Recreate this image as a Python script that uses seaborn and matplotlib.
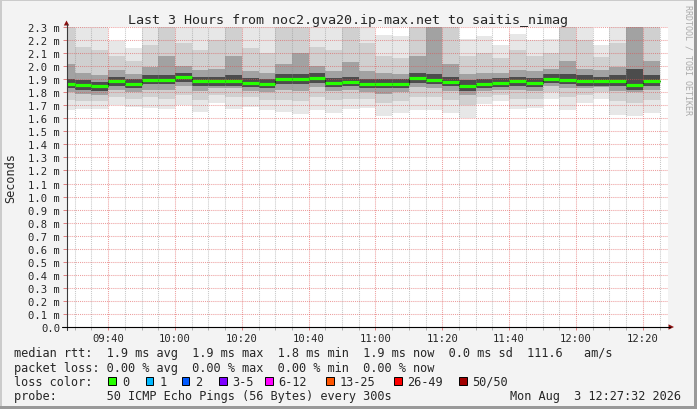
import numpy as np
import matplotlib
matplotlib.use("Agg")
import matplotlib.pyplot as plt
from matplotlib.lines import Line2D
from matplotlib.patches import Rectangle, Polygon
import seaborn as sns

W, H = 697, 410

# 5 minute ping rounds (start time of each round)
slot_times = ["09:25", "09:30", "09:35", "09:40", "09:45", "09:50", "09:55", "10:00", "10:05",
              "10:10", "10:15", "10:20", "10:25", "10:30", "10:35", "10:40", "10:45", "10:50",
              "10:55", "11:00", "11:05", "11:10", "11:15", "11:20", "11:25", "11:30", "11:35",
              "11:40", "11:45", "11:50", "11:55", "12:00", "12:05", "12:10", "12:15", "12:20"]

# rtt in ms; smoke percentiles per round (2.4 = above the top of the graph)
rtt_lo  = [1.66, 1.67, 1.67, 1.70, 1.69, 1.68, 1.67, 1.70, 1.65, 1.72, 1.67, 1.69, 1.66, 1.65, 1.63, 1.66, 1.64, 1.67,
           1.68, 1.62, 1.64, 1.66, 1.66, 1.64, 1.60, 1.71, 1.73, 1.67, 1.68, 1.75, 1.66, 1.72, 1.75, 1.625, 1.62, 1.64]
rtt_p10 = [1.74, 1.73, 1.73, 1.76, 1.75, 1.76, 1.75, 1.78, 1.74, 1.78, 1.76, 1.76, 1.74, 1.74, 1.73, 1.76, 1.74, 1.75,
           1.75, 1.72, 1.73, 1.76, 1.76, 1.74, 1.70, 1.76, 1.78, 1.75, 1.75, 1.80, 1.76, 1.78, 1.80, 1.73, 1.72, 1.74]
rtt_p25 = [1.80, 1.79, 1.78, 1.82, 1.80, 1.82, 1.82, 1.85, 1.81, 1.83, 1.83, 1.81, 1.80, 1.82, 1.81, 1.84, 1.81, 1.82,
           1.80, 1.79, 1.80, 1.84, 1.83, 1.81, 1.78, 1.81, 1.82, 1.82, 1.81, 1.85, 1.83, 1.83, 1.84, 1.81, 1.80, 1.82]
rtt_p40 = [1.83, 1.82, 1.81, 1.85, 1.83, 1.86, 1.86, 1.88, 1.85, 1.85, 1.85, 1.84, 1.83, 1.86, 1.86, 1.87, 1.84, 1.85,
           1.83, 1.83, 1.83, 1.87, 1.86, 1.85, 1.81, 1.83, 1.84, 1.85, 1.84, 1.87, 1.86, 1.85, 1.85, 1.85, 1.82, 1.85]
rtt_med = [1.864, 1.856, 1.849, 1.887, 1.864, 1.896, 1.896, 1.919, 1.883, 1.888, 1.888, 1.873, 1.863, 1.901, 1.901,
           1.911, 1.873, 1.882, 1.866, 1.866, 1.866, 1.911, 1.896, 1.881, 1.850, 1.866, 1.873, 1.883, 1.873, 1.904,
           1.896, 1.888, 1.888, 1.888, 1.858, 1.888]
rtt_p60 = [1.90, 1.89, 1.88, 1.92, 1.90, 1.93, 1.93, 1.95, 1.92, 1.92, 1.93, 1.91, 1.90, 1.94, 1.94, 1.95, 1.91, 1.92,
           1.90, 1.90, 1.90, 1.95, 1.94, 1.92, 1.89, 1.90, 1.91, 1.92, 1.91, 1.94, 1.94, 1.93, 1.92, 1.93, 1.98, 1.93]
rtt_p75 = [2.02, 1.95, 1.93, 1.97, 1.94, 1.99, 2.08, 2.00, 1.97, 1.98, 2.08, 1.96, 1.95, 2.02, 2.10, 2.00, 1.96, 2.03,
           1.96, 1.95, 1.94, 2.08, 2.40, 2.02, 1.94, 1.95, 1.95, 1.97, 1.96, 1.98, 2.04, 1.98, 1.97, 1.99, 2.40, 2.04]
rtt_p90 = [2.40, 2.15, 2.12, 2.08, 2.04, 2.16, 2.40, 2.18, 2.12, 2.20, 2.40, 2.14, 2.10, 2.40, 2.40, 2.15, 2.12, 2.40,
           2.18, 2.08, 2.06, 2.40, 2.40, 2.40, 2.08, 2.10, 2.06, 2.12, 2.08, 2.10, 2.40, 2.20, 2.07, 2.18, 2.40, 2.40]
rtt_hi  = [2.40, 2.40, 2.40, 2.19, 2.14, 2.40, 2.40, 2.40, 2.40, 2.40, 2.40, 2.40, 2.40, 2.40, 2.40, 2.40, 2.40, 2.40,
           2.40, 2.24, 2.23, 2.40, 2.40, 2.40, 2.21, 2.23, 2.16, 2.25, 2.20, 2.21, 2.40, 2.40, 2.16, 2.40, 2.40, 2.40]

time_labels = ["09:40", "10:00", "10:20", "10:40", "11:00", "11:20", "11:40", "12:00", "12:20"]
y_ticks = [0.0, 0.1, 0.2, 0.3, 0.4, 0.5, 0.6, 0.7, 0.8, 0.9, 1.0, 1.1, 1.2, 1.3, 1.4, 1.5, 1.6, 1.7, 1.8, 1.9,
           2.0, 2.1, 2.2, 2.3]

loss_labels = ["0", "1", "2", "3-5", "6-12", "13-25", "26-49", "50/50"]
loss_colors = ["#26ff00", "#00b8ff", "#0059ff", "#7e00ff", "#ff00ff", "#ff5500", "#ff0000", "#a10000"]
loss_box_x = [108.3, 145.7, 181.7, 219, 265, 326, 394, 459]

title = "Last 3 Hours from noc2.gva20.ip-max.net to saitis_nimag"
rtt_line = "median rtt:  1.9 ms avg  1.9 ms max  1.8 ms min  1.9 ms now  0.0 ms sd  111.6   am/s"
loss_line = "packet loss: 0.00 % avg  0.00 % max  0.00 % min  0.00 % now"
probe_line = "probe:       50 ICMP Echo Pings (56 Bytes) every 300s"
stamp = "Mon Aug  3 12:27:32 2026"
end_time = "12:27:32"


def mins(s):
    parts = [int(p) for p in s.split(":")]
    m = (parts[0] - 9) * 60 + parts[1]
    if len(parts) > 2:
        m += parts[2] / 60
    return m


sns.set_theme(style="white")
plt.rcParams["font.family"] = ["DejaVu Sans Mono", "DejaVu Sans"]

fig = plt.figure(figsize=(W / 100, H / 100), dpi=100)
fig.patch.set_facecolor("#f3f3f3")

L, R, T, B = 66.5, 668, 28, 328
ax = fig.add_axes([L / W, 1 - B / H, (R - L) / W, (B - T) / H])
ax.set_facecolor("white")

x0 = np.array([mins(s) for s in slot_times], float)
edges = np.append(x0, x0[-1] + 5)


def stepv(v):
    v = np.asarray(v, float)
    return np.append(v, v[-1])


# smoke
bands = [(rtt_lo, rtt_hi, "#e7e7e7"), (rtt_p10, rtt_p90, "#d0d0d0"),
         (rtt_p25, rtt_p75, "#a2a2a2"), (rtt_p40, rtt_p60, "#4c4c4c")]
for a, b, c in bands:
    ax.fill_between(edges, stepv(a), stepv(b), step="post", color=c, lw=0, zorder=1)

# median: dark step + loss coloured segments
sns.lineplot(x=edges, y=stepv(rtt_med), drawstyle="steps-post", color="#202020", lw=0.8,
             estimator=None, ax=ax, zorder=3)
ax.hlines(rtt_med, x0, x0 + 5, color=loss_colors[0], lw=2.3, zorder=4)

t_end = mins(end_time)
ax.set_xlim(t_end - 180, t_end)
ax.set_ylim(0, 2.3)

ax.set_xticks([mins(s) for s in time_labels])
ax.set_xticklabels(time_labels)
ax.set_xticks(edges[1:], minor=True)
ax.set_yticks(y_ticks)
ax.set_yticklabels(["0.0" if v == 0 else f"{v:.1f} m" for v in y_ticks])

dot = (0, (1, 1))
ax.set_axisbelow(False)
ax.grid(True, which="major", axis="both", color="#de5050", alpha=0.55, ls=dot, lw=0.75)
ax.grid(True, which="minor", axis="x", color="#8f8f8f", alpha=0.5, ls=dot, lw=0.75)
for s in ax.spines.values():
    s.set_visible(False)
ax.tick_params(axis="y", which="major", left=True, direction="out", length=3, width=0.7,
               color="#e08080", pad=1.5, labelsize=7.6)
ax.tick_params(axis="x", which="major", bottom=True, direction="out", length=2, width=0.7,
               color="#e08080", pad=2, labelsize=7.6)
ax.tick_params(axis="x", which="minor", bottom=True, direction="out", length=2, width=0.7,
               color="#b0b0b0")


def fx(x):
    return x / W


def fy(y):
    return 1 - y / H


# axes with arrows
fig.add_artist(Line2D([fx(66.5), fx(66.5)], [fy(331), fy(25)], color="#3a3a3a", lw=0.8))
fig.add_artist(Line2D([fx(62), fx(670)], [fy(328), fy(328)], color="#000000", lw=0.8))
fig.add_artist(Polygon([(fx(63.8), fy(26.5)), (fx(69.2), fy(26.5)), (fx(66.5), fy(21.5))],
                       closed=True, color="#8b1010", lw=0))
fig.add_artist(Polygon([(fx(668.5), fy(325.3)), (fx(668.5), fy(330.7)), (fx(674), fy(328))],
                       closed=True, color="#8b1010", lw=0))

# frame shading
fig.add_artist(Rectangle((0, fy(2)), 1, 2 / H, color="#cbcbcb", lw=0))
fig.add_artist(Rectangle((0, 0), 2 / W, 1, color="#cbcbcb", lw=0))
fig.add_artist(Rectangle((0, 0), 1, 3 / H, color="#999999", lw=0))
fig.add_artist(Rectangle((fx(694), 0), 3 / W, 1, color="#999999", lw=0))

# texts
fig.text(fx(348), fy(24), title, ha="center", va="baseline", fontsize=9.6)
fig.text(fx(11), fy(178), "Seconds", rotation=90, ha="center", va="center", fontsize=8.55)
fig.text(fx(688), fy(60), "RRDTOOL / TOBI OETIKER", rotation=270, ha="center", va="center",
         fontsize=6, color="#aaaaaa")

leg_fs = 8.55
fig.text(fx(14.5), fy(357), rtt_line, ha="left", va="baseline", fontsize=leg_fs)
fig.text(fx(14.5), fy(372), loss_line, ha="left", va="baseline", fontsize=leg_fs)
fig.text(fx(14.5), fy(386), "loss color:", ha="left", va="baseline", fontsize=leg_fs)
for bx, lab, col in zip(loss_box_x, loss_labels, loss_colors):
    fig.add_artist(Rectangle((fx(bx), fy(386)), 7.5 / W, 7.8 / H, facecolor=col,
                             edgecolor="black", lw=0.7))
    fig.text(fx(bx + 13.5), fy(386), lab, ha="left", va="baseline", fontsize=leg_fs)
fig.text(fx(14.5), fy(400), probe_line, ha="left", va="baseline", fontsize=leg_fs)
fig.text(fx(681), fy(400), stamp, ha="right", va="baseline", fontsize=leg_fs)

fig.savefig("out.png", dpi=100, facecolor=fig.get_facecolor())
